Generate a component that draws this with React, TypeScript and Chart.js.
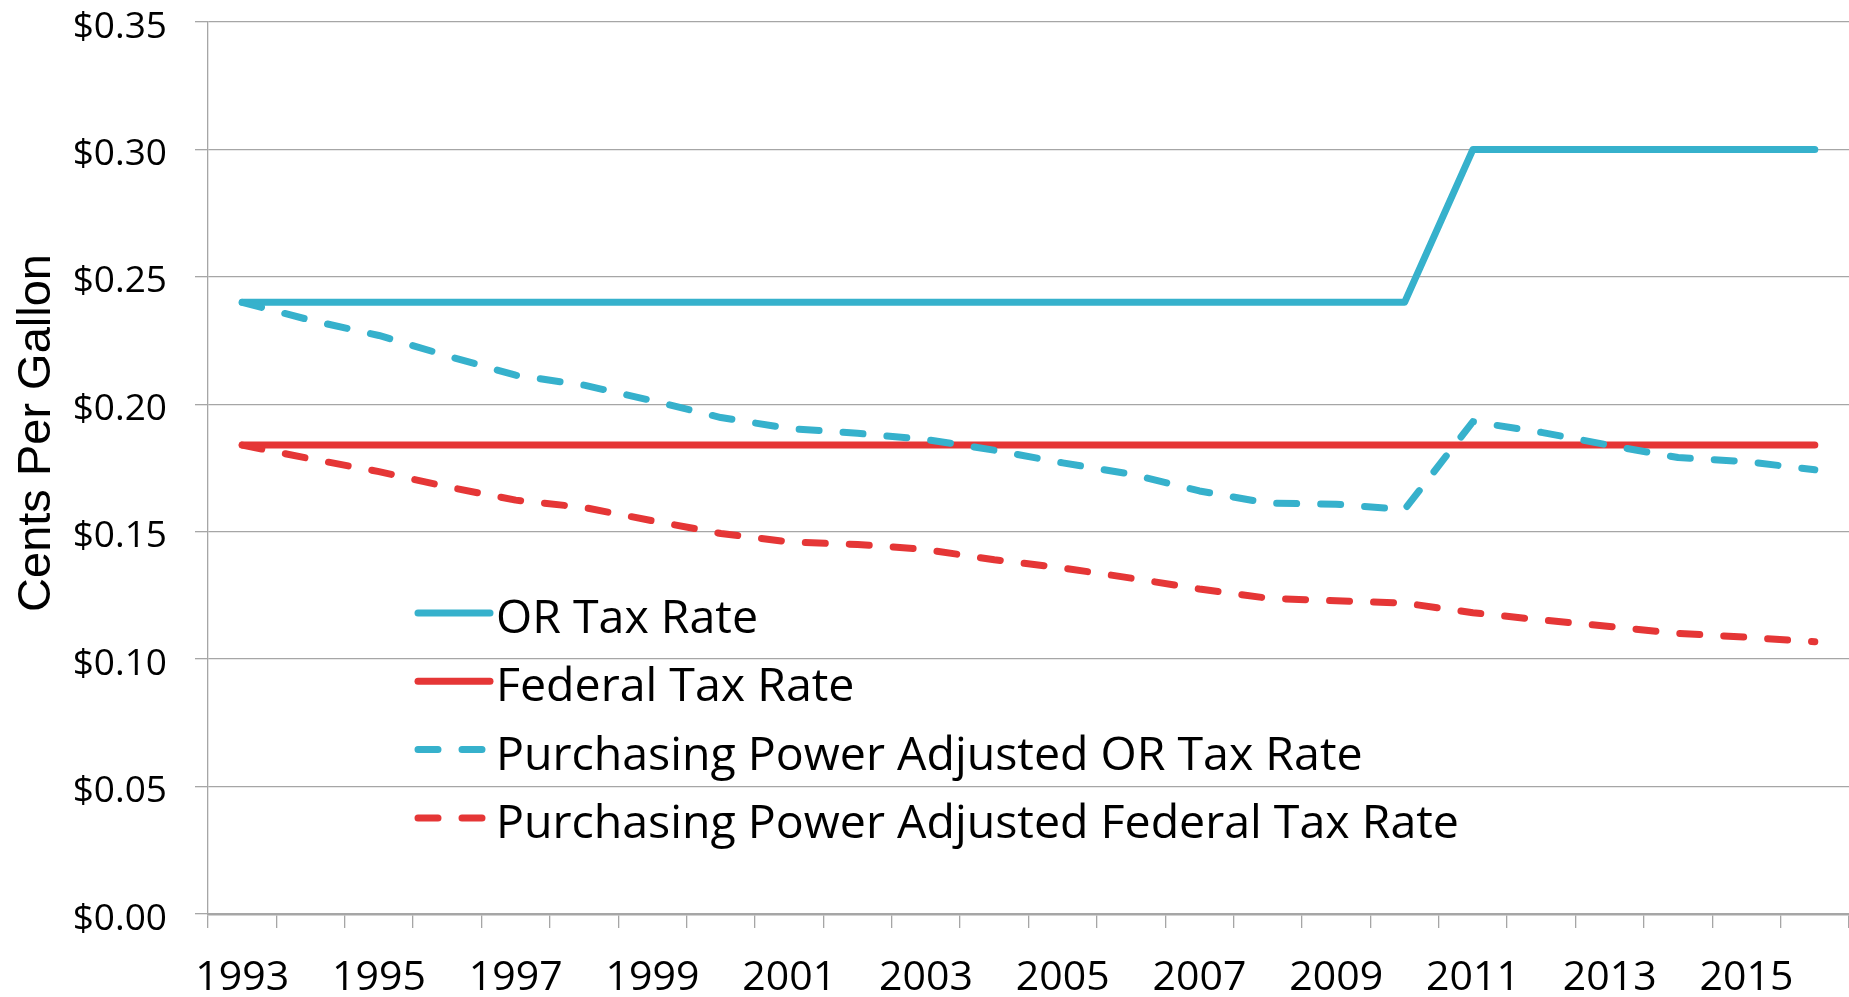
import React, { useEffect, useRef } from "react";
import { Chart, registerables } from "chart.js";

Chart.register(...registerables);

const years = [
  "1993", "1994", "1995", "1996", "1997", "1998", "1999", "2000",
  "2001", "2002", "2003", "2004", "2005", "2006", "2007", "2008",
  "2009", "2010", "2011", "2012", "2013", "2014", "2015", "2016",
];

const shownYearLabels = [
  "1993", "1995", "1997", "1999", "2001", "2003",
  "2005", "2007", "2009", "2011", "2013", "2015",
];

const yTickValues = [0, 0.05, 0.1, 0.15, 0.2, 0.25, 0.3, 0.35];

const orTaxRate = [
  0.24, 0.24, 0.24, 0.24, 0.24, 0.24, 0.24, 0.24, 0.24, 0.24, 0.24, 0.24,
  0.24, 0.24, 0.24, 0.24, 0.24, 0.24, 0.30, 0.30, 0.30, 0.30, 0.30, 0.30,
];

const federalTaxRate = [
  0.184, 0.184, 0.184, 0.184, 0.184, 0.184, 0.184, 0.184, 0.184, 0.184, 0.184, 0.184,
  0.184, 0.184, 0.184, 0.184, 0.184, 0.184, 0.184, 0.184, 0.184, 0.184, 0.184, 0.184,
];

const ppAdjustedOrTaxRate = [
  0.240, 0.233, 0.227, 0.219, 0.2114, 0.2075, 0.2014, 0.1948, 0.1905, 0.1886, 0.1862, 0.182,
  0.177, 0.1726, 0.166, 0.1612, 0.1608, 0.1587, 0.1932, 0.189, 0.1839, 0.1791, 0.1775, 0.1743,
];

const ppAdjustedFederalTaxRate = [
  0.184, 0.1786, 0.1736, 0.1676, 0.1624, 0.1595, 0.1543, 0.1493, 0.146, 0.145, 0.143, 0.139,
  0.1358, 0.1318, 0.1275, 0.1239, 0.1229, 0.122, 0.1182, 0.1154, 0.1128, 0.1101, 0.1086, 0.1068,
];

const seriesNames = [
  "OR Tax Rate",
  "Federal Tax Rate",
  "Purchasing Power Adjusted OR Tax Rate",
  "Purchasing Power Adjusted Federal Tax Rate",
];

const axisTitle = "Cents Per Gallon";

const BLUE = "#36B1CC";
const RED = "#E53636";
const GRID = "#A6A6A6";
const DASH = [20, 24];
const FONT = '"Open Sans"';

const overlayPlugin = {
  id: "overlayLegendTitle",
  afterDraw(chart: any) {
    const ctx = chart.ctx as CanvasRenderingContext2D;
    const area = chart.chartArea;
    ctx.save();
    // legend
    const x0 = area.left + 210;
    const x1 = area.left + 282;
    const textX = area.left + 288;
    const baseY0 = area.top + 611;
    const rowGap = 68.3;
    chart.data.datasets.forEach((ds: any, i: number) => {
      const by = baseY0 + i * rowGap;
      const ly = by - 20;
      ctx.save();
      ctx.strokeStyle = ds.borderColor;
      ctx.lineWidth = ds.borderWidth;
      ctx.lineCap = "round";
      ctx.setLineDash(ds.borderDash || []);
      ctx.beginPath();
      ctx.moveTo(x0, ly);
      ctx.lineTo(x1, ly);
      ctx.stroke();
      ctx.restore();
      ctx.fillStyle = "#000";
      ctx.font = `46.5px ${FONT}`;
      ctx.textAlign = "left";
      ctx.textBaseline = "alphabetic";
      ctx.fillText(ds.label, textX, by);
    });
    // axis title
    ctx.translate(50, 433);
    ctx.rotate(-Math.PI / 2);
    ctx.fillStyle = "#000";
    ctx.font = `47px "Liberation Sans"`;
    ctx.textAlign = "center";
    ctx.textBaseline = "alphabetic";
    ctx.fillText(axisTitle, 0, 0);
    ctx.restore();
  },
};

export default function App() {
  const canvasRef = useRef<HTMLCanvasElement | null>(null);

  useEffect(() => {
    if (!canvasRef.current) return;
    const chart = new Chart(canvasRef.current, {
      type: "line",
      data: {
        labels: years,
        datasets: [
          {
            label: seriesNames[0],
            data: orTaxRate,
            borderColor: BLUE,
            borderWidth: 7,
            borderCapStyle: "round",
            borderJoinStyle: "round",
            pointRadius: 0,
            tension: 0,
            order: 3,
          },
          {
            label: seriesNames[1],
            data: federalTaxRate,
            borderColor: RED,
            borderWidth: 7,
            borderCapStyle: "round",
            borderJoinStyle: "round",
            pointRadius: 0,
            tension: 0,
            order: 2,
          },
          {
            label: seriesNames[2],
            data: ppAdjustedOrTaxRate,
            borderColor: BLUE,
            borderWidth: 7,
            borderDash: DASH,
            borderCapStyle: "round",
            borderJoinStyle: "round",
            pointRadius: 0,
            tension: 0,
            order: 1,
          },
          {
            label: seriesNames[3],
            data: ppAdjustedFederalTaxRate,
            borderColor: RED,
            borderWidth: 7,
            borderDash: DASH,
            borderCapStyle: "round",
            borderJoinStyle: "round",
            pointRadius: 0,
            tension: 0,
            order: 0,
          },
        ],
      },
      options: {
        responsive: false,
        animation: false,
        layout: { padding: { top: 22, left: 0, right: 0, bottom: 0 } },
        plugins: {
          legend: { display: false },
          tooltip: { enabled: false },
          title: { display: false },
        },
        scales: {
          x: {
            type: "category",
            offset: true,
            grid: {
              display: true,
              drawOnChartArea: false,
              drawTicks: true,
              tickLength: 14,
              offset: true,
              color: GRID,
              lineWidth: 1.3,
            },
            border: { display: true, color: GRID, width: 2.5 },
            ticks: {
              autoSkip: false,
              maxRotation: 0,
              minRotation: 0,
              padding: 26,
              color: "#000",
              font: { family: FONT, size: 41 },
              callback: (_v: any, idx: number) =>
                shownYearLabels.includes(years[idx]) ? years[idx] : "",
            },
            afterFit: (scale: any) => {
              scale.height = 83;
              scale.paddingLeft = 0;
              scale.paddingRight = 0;
            },
          },
          y: {
            type: "linear",
            min: 0,
            max: 0.35,
            afterBuildTicks: (scale: any) => {
              scale.ticks = yTickValues.map((v) => ({ value: v }));
            },
            grid: {
              display: true,
              drawOnChartArea: true,
              drawTicks: true,
              tickLength: 13,
              color: GRID,
              lineWidth: 1.3,
            },
            border: { display: true, color: GRID, width: 1.3 },
            ticks: {
              padding: 28,
              labelOffset: 5,
              color: "#000",
              font: { family: FONT, size: 37 },
              callback: (v: any) => "$" + Number(v).toFixed(2),
            },
            afterFit: (scale: any) => {
              scale.width = 208;
              scale.paddingTop = 0;
              scale.paddingBottom = 0;
            },
          },
        },
      },
      plugins: [overlayPlugin],
    });
    return () => chart.destroy();
  }, []);

  return (
    <div style={{ position: "fixed", left: 0, top: 0, width: 1849, height: 997, background: "#fff" }}>
      <canvas ref={canvasRef} width={1849} height={997} style={{ display: "block" }} />
    </div>
  );
}
